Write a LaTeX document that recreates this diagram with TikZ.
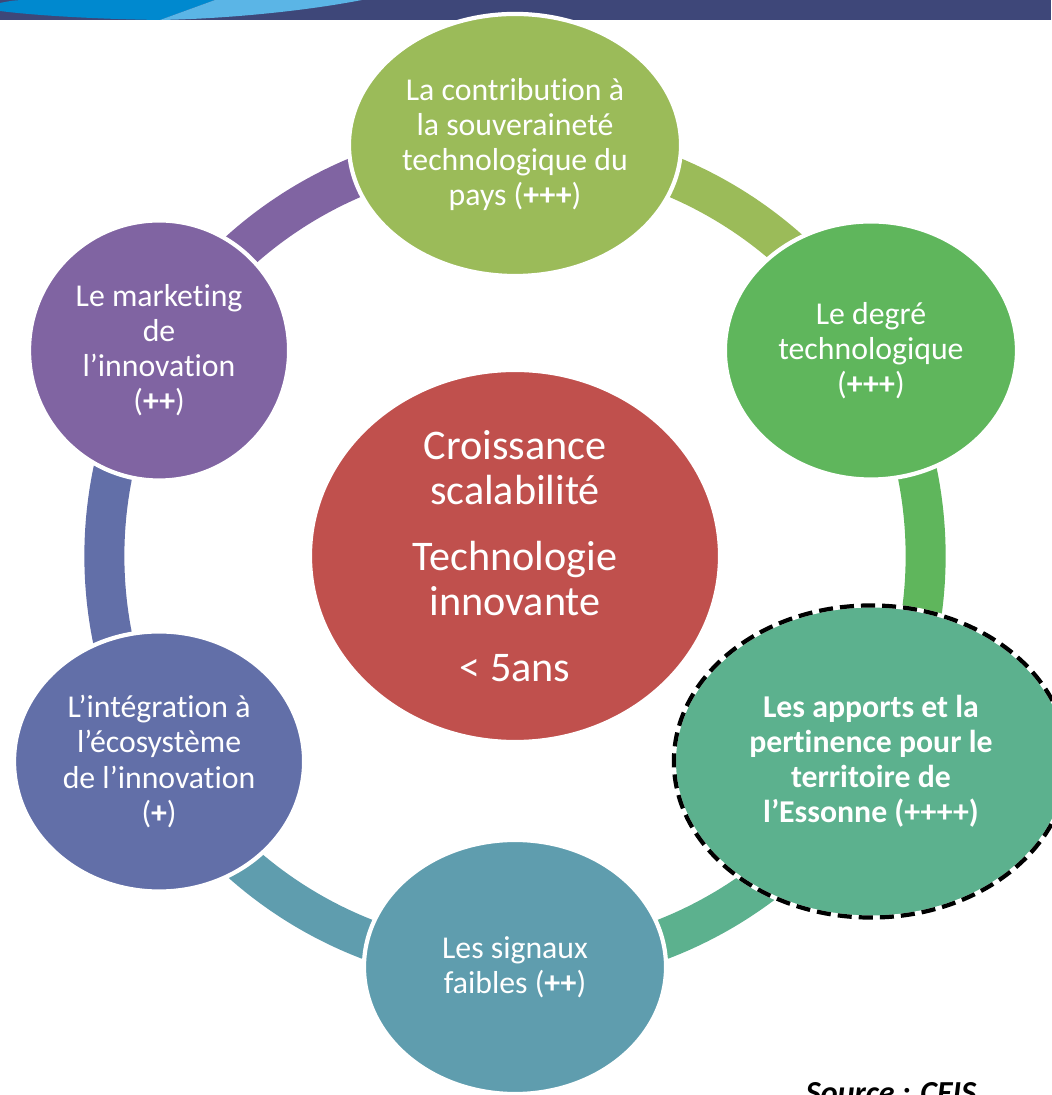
\documentclass[tikz,border=0pt]{standalone}
\usepackage{fontspec}
\setmainfont{Carlito}[Ligatures=CommonOff]
\usetikzlibrary{shapes.geometric}
\usetikzlibrary{backgrounds}

\definecolor{bandnavy}{RGB}{62,71,121}
\definecolor{swooshblue}{RGB}{0,137,207}
\definecolor{swooshlight}{RGB}{91,181,230}
\definecolor{contribgreen}{RGB}{155,187,89}
\definecolor{degregreen}{RGB}{95,182,92}
\definecolor{apportsgreen}{RGB}{92,177,142}
\definecolor{signauxteal}{RGB}{95,157,174}
\definecolor{integblue}{RGB}{98,111,168}
\definecolor{marketingpurple}{RGB}{128,100,162}
\definecolor{coeurred}{RGB}{192,80,77}

\tikzset{
  bulle/.style={ellipse, draw=white, line width=3pt, text=white, align=center, inner sep=0pt, font=\fontsize{22.6}{24.9}\selectfont},
  anneau/.style={line width=1cm, bend left=30, looseness=0.91},
}

\begin{document}
\begin{tikzpicture}[x=0.025cm, y=0.025cm]

\useasboundingbox (0, 0) rectangle (1051, 1095);

\fill[bandnavy] (0, 1075) rectangle (1051, 1095);
\fill[swooshblue] (0, 1092) .. controls (15, 1095) .. (40, 1095) -- (215, 1095) -- (160, 1075) .. controls (90, 1076) and (30, 1080) .. (0, 1084) -- cycle;
\fill[swooshlight] (215, 1095) -- (362, 1095) .. controls (300, 1083) and (220, 1076) .. (160, 1075) -- cycle;

\begin{scope}[shift={(515, 539)}]
\node[bulle, fill=coeurred, minimum width=10.25cm, minimum height=9.3cm, font=\fontsize{30}{32}\selectfont] (coeur) at (0, 0) {Croissance\\scalabilité\\[0.52cm]Technologie\\innovante\\[0.52cm]< 5ans};
\node[bulle, fill=contribgreen, minimum width=8.3cm, minimum height=6.55cm] (contrib) at (90:411) {La contribution à\\la souveraineté\\technologique du\\pays (\textbf{+++})};
\node[bulle, fill=degregreen, minimum width=7.3cm, minimum height=6.45cm] (degre) at (30:411) {Le degré\\technologique\\(\textbf{+++})};
\node[bulle, fill=apportsgreen, minimum width=9.85cm, minimum height=7.8cm, font=\fontsize{22.6}{24.9}\selectfont\bfseries, postaction={draw=black, line width=3pt, dash pattern=on 10pt off 5pt}] (apports) at (-30:411) {Les apports et la\\pertinence pour le\\territoire de\\l’Essonne (++++)};
\node[bulle, fill=signauxteal, minimum width=7.55cm, minimum height=6.35cm] (signaux) at (-90:411) {Les signaux\\faibles (\textbf{++})};
\node[bulle, fill=integblue, minimum width=7.25cm, minimum height=6.5cm] (integ) at (-150:411) {L’intégration à\\l’écosystème\\de l’innovation\\(\textbf{+})};
\node[bulle, fill=marketingpurple, minimum width=6.5cm, minimum height=6.5cm] (marketing) at (150:411) {Le marketing\\de\\l’innovation\\(\textbf{++})};
\end{scope}

\begin{scope}[on background layer]
\draw[anneau, contribgreen] (contrib.center) to (degre.center);
\draw[anneau, degregreen] (degre.center) to (apports.center);
\draw[anneau, apportsgreen] (apports.center) to (signaux.center);
\draw[anneau, signauxteal] (signaux.center) to (integ.center);
\draw[anneau, integblue] (integ.center) to (marketing.center);
\draw[anneau, marketingpurple] (marketing.center) to (contrib.center);
\end{scope}

\node[anchor=base west, font=\fontsize{22.8}{24}\selectfont\bfseries\itshape] (source) at (801, -8) {Source : CEIS};

\end{tikzpicture}
\end{document}
